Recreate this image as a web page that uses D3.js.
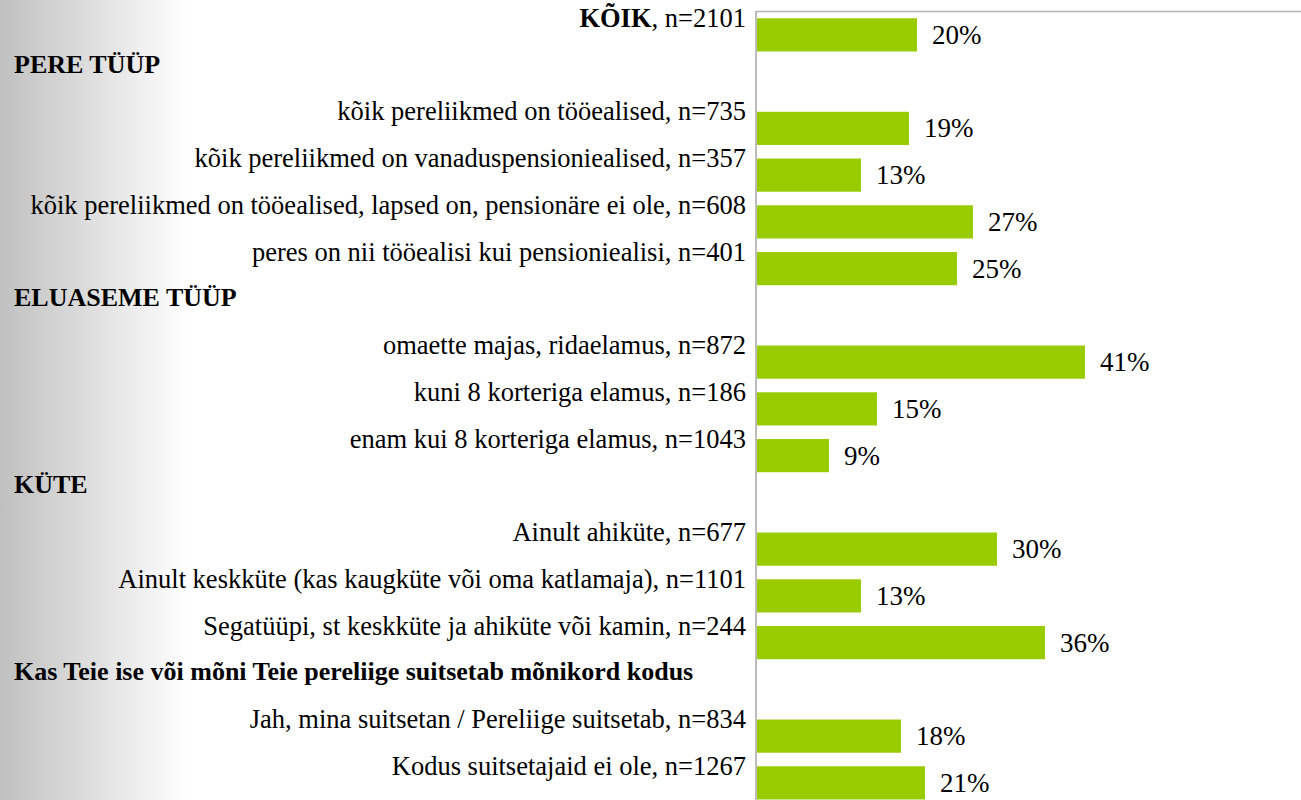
<!DOCTYPE html>
<html>
<head>
<meta charset="utf-8">
<script src="https://cdn.jsdelivr.net/npm/d3@7"></script>
<style>
  html, body { margin: 0; padding: 0; background: #ffffff; }
  svg { display: block; }
</style>
</head>
<body>
<svg id="chart" width="1301" height="800"></svg>
<script>
// Row labels, top to bottom; section headings have no value
const rowLabels = [
  "KÕIK, n=2101",
  "PERE TÜÜP",
  "kõik pereliikmed on tööealised, n=735",
  "kõik pereliikmed on vanaduspensioniealised, n=357",
  "kõik pereliikmed on tööealised, lapsed on, pensionäre ei ole, n=608",
  "peres on nii tööealisi kui pensioniealisi, n=401",
  "ELUASEME TÜÜP",
  "omaette majas, ridaelamus, n=872",
  "kuni 8 korteriga elamus, n=186",
  "enam kui 8 korteriga elamus, n=1043",
  "KÜTE",
  "Ainult ahiküte, n=677",
  "Ainult keskküte (kas kaugküte või oma katlamaja), n=1101",
  "Segatüüpi, st keskküte ja ahiküte või kamin, n=244",
  "Kas Teie ise või mõni Teie pereliige suitsetab mõnikord kodus",
  "Jah, mina suitsetan / Pereliige suitsetab, n=834",
  "Kodus suitsetajaid ei ole, n=1267"
];
// Share in percent (null = section heading row)
const rowValues = [20, null, 19, 13, 27, 25, null, 41, 15, 9, null, 30, 13, 36, null, 18, 21];
// Section heading rows
const headingRows = ["PERE TÜÜP", "ELUASEME TÜÜP", "KÜTE",
  "Kas Teie ise või mõni Teie pereliige suitsetab mõnikord kodus"];

const FONT = "Liberation Serif";

const svg = d3.select("#chart");
const W = 1301, H = 800;

// Grey-to-white wash along the left edge
const defs = svg.append("defs");
const grad = defs.append("linearGradient").attr("id", "leftWash")
  .attr("x1", "0").attr("x2", "1").attr("y1", "0").attr("y2", "0");
grad.append("stop").attr("offset", "0%").attr("stop-color", "#c0c0c0");
grad.append("stop").attr("offset", "100%").attr("stop-color", "#ffffff");
svg.append("rect").attr("x", 0).attr("y", 0).attr("width", 188).attr("height", H)
  .attr("fill", "url(#leftWash)");

const rows = rowLabels.map((label, i) => ({
  label, value: rowValues[i], heading: headingRows.includes(label), idx: i
}));

const y = d3.scaleBand()
  .domain(rows.map(d => d.idx))
  .range([11.5, 11.5 + 17 * 46.75])
  .paddingInner(0.29)
  .paddingOuter(0.145);

const x = d3.scaleLinear().domain([0, 68]).range([757, 1301]);

// Plot frame: top rule and category axis
svg.append("line").attr("x1", x(0) - 1).attr("x2", W).attr("y1", 11.5).attr("y2", 11.5)
  .attr("stroke", "#b4b4b4").attr("stroke-width", 1.5);
svg.append("line").attr("x1", x(0) - 1).attr("x2", x(0) - 1).attr("y1", 11).attr("y2", H)
  .attr("stroke", "#a6a6a6").attr("stroke-width", 1.5);

const center = d => y(d.idx) + y.bandwidth() / 2;
const dataRows = rows.filter(d => d.value !== null);

// Bars
svg.selectAll("rect.bar").data(dataRows).join("rect")
  .attr("class", "bar")
  .attr("x", x(0))
  .attr("y", d => y(d.idx))
  .attr("width", d => x(d.value) - x(0))
  .attr("height", y.bandwidth())
  .attr("fill", "#99cc00");

// Value labels
svg.selectAll("text.val").data(dataRows).join("text")
  .attr("class", "val")
  .attr("x", d => x(d.value) + 15)
  .attr("y", d => center(d) + 9)
  .style("font-family", FONT)
  .style("font-size", "27px")
  .style("fill", "#000")
  .text(d => d.value + "%");

// Category labels, right-aligned against the axis
const cats = svg.selectAll("text.cat").data(dataRows).join("text")
  .attr("class", "cat")
  .attr("x", 746)
  .attr("y", d => center(d) - 8)
  .attr("text-anchor", "end")
  .style("font-family", FONT)
  .style("font-size", "26.5px")
  .style("fill", "#000");
cats.each(function(d) {
  const t = d3.select(this);
  if (d.idx === 0) {
    const parts = d.label.split(",");
    t.append("tspan").style("font-weight", "bold").text(parts[0]);
    t.append("tspan").text("," + parts.slice(1).join(","));
  } else {
    t.text(d.label);
  }
});

// Section headings, left-aligned
svg.selectAll("text.head").data(rows.filter(d => d.heading)).join("text")
  .attr("class", "head")
  .attr("x", 14)
  .attr("y", d => center(d) - 9)
  .style("font-family", FONT)
  .style("font-size", "26px")
  .style("font-weight", "bold")
  .style("fill", "#000")
  .text(d => d.label);
</script>
</body>
</html>
